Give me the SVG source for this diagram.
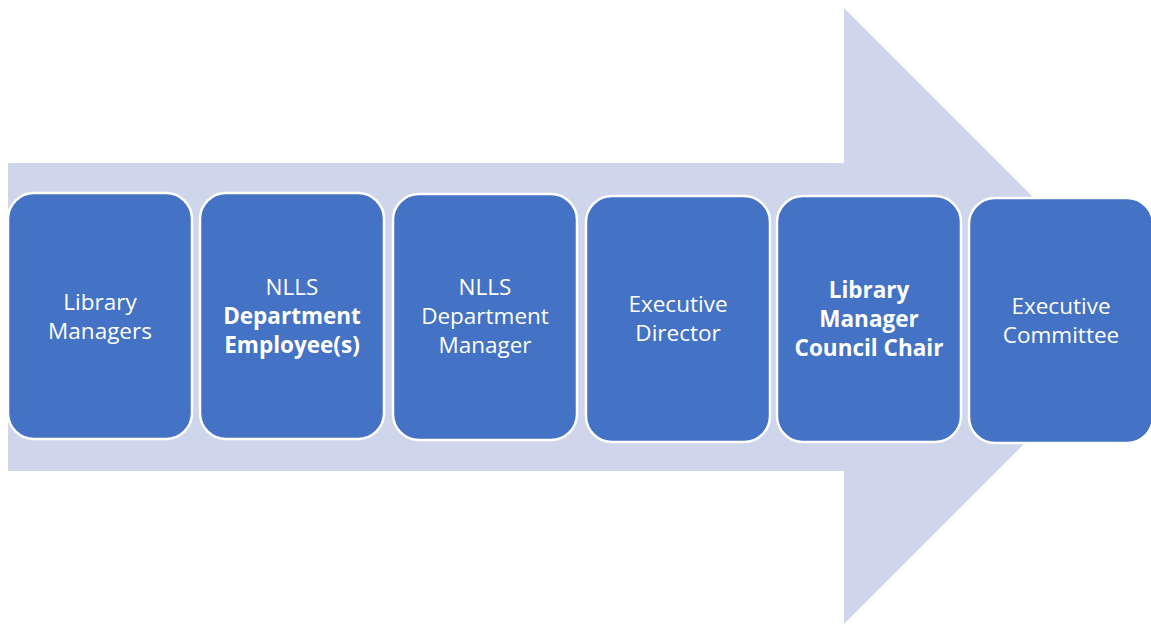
<svg xmlns="http://www.w3.org/2000/svg" width="1151" height="625" viewBox="0 0 1151 625">
  <style>
    .box { fill: #4472C4; stroke: #FFFFFF; stroke-width: 2.5; }
    .lbl { fill: #FFFFFF; font-family: "Open Sans", "Liberation Sans", sans-serif; font-size: 22.5px; text-anchor: middle; }
    .b { font-weight: bold; }
  </style>
  <rect width="1151" height="625" fill="#FFFFFF"/>
  <!-- background process arrow -->
  <g id="arrow">
    <polygon points="8,163 844,163 844,8 1152,316 844,624 844,471 8,471" fill="#CFD5EA"/>
  </g>
  <g id="connectors"></g>
  <g id="n1">
    <rect class="box" x="8" y="193" width="184" height="246" rx="26"/>
    <text class="lbl" x="100" y="310">Library</text>
    <text class="lbl" x="100" y="339">Managers</text>
  </g>
  <g id="n2">
    <rect class="box" x="200" y="193" width="184" height="246" rx="26"/>
    <text class="lbl" x="292" y="295">NLLS</text>
    <text class="lbl b" x="292" y="324">Department</text>
    <text class="lbl b" x="292" y="353">Employee(s)</text>
  </g>
  <g id="n3">
    <rect class="box" x="393" y="194" width="184" height="246" rx="26"/>
    <text class="lbl" x="485" y="295">NLLS</text>
    <text class="lbl" x="485" y="324">Department</text>
    <text class="lbl" x="485" y="353">Manager</text>
  </g>
  <g id="n4">
    <rect class="box" x="586" y="196" width="184" height="246" rx="26"/>
    <text class="lbl" x="678" y="312">Executive</text>
    <text class="lbl" x="678" y="341">Director</text>
  </g>
  <g id="n5">
    <rect class="box" x="777" y="196" width="184" height="246" rx="26"/>
    <text class="lbl b" x="869" y="298">Library</text>
    <text class="lbl b" x="869" y="327">Manager</text>
    <text class="lbl b" x="869" y="356">Council Chair</text>
  </g>
  <g id="n6">
    <rect class="box" x="969" y="198" width="184" height="245" rx="26"/>
    <text class="lbl" x="1061" y="314">Executive</text>
    <text class="lbl" x="1061" y="343">Committee</text>
  </g>
</svg>
